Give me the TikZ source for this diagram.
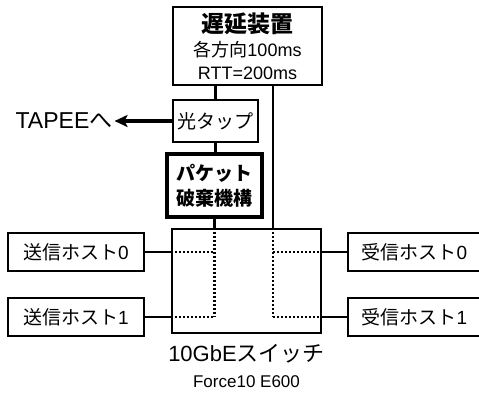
\documentclass[tikz,border=0pt]{standalone}
\usepackage{fontspec}
\setmainfont{Liberation Sans}
\newfontfamily\jp{Noto Sans CJK JP}
\usetikzlibrary{arrows.meta}
\tikzset{
  box/.style={draw, line width=2.5pt, inner sep=0pt, align=center, fill=white},
  thickbox/.style={box, line width=4.5pt},
  conn/.style={line width=2.5pt},
  inner/.style={line width=2.8pt, dash pattern=on 2.4pt off 1.6pt},
  fs/.style={font=\fontsize{#1}{#1}\selectfont},
}
\begin{document}
\begin{tikzpicture}[x=1pt, y=-1pt]
\useasboundingbox (0,0) rectangle (479,392);
% boxes
\node[box, minimum width=149pt, minimum height=78pt, font=\fontsize{18}{23}\selectfont] (delay) at (247.5,46)
  {{\jp\fontsize{23}{23}\selectfont\bfseries 遅延装置}\\[1pt]
   {\jp 各方向}100ms\\
   RTT=200ms};
\node[box, minimum width=85pt, minimum height=42pt, fs=19] (tap) at (215.5,121) {\jp 光タップ};
\node[thickbox, minimum width=95pt, minimum height=63pt, font=\fontsize{19}{25}\selectfont] (pkt) at (214.5,185.5)
  {{\jp\bfseries パケット}\\{\jp\bfseries 破棄機構}};
\node[box, minimum width=149pt, minimum height=104pt] (sw) at (246.5,281) {};
\node[box, minimum width=136pt, minimum height=38pt, fs=19] (s0) at (76,252) {{\jp 送信ホスト}0};
\node[box, minimum width=136pt, minimum height=38pt, fs=19] (s1) at (76,317) {{\jp 送信ホスト}1};
\node[box, minimum width=133pt, minimum height=38pt, fs=19] (r0) at (414.5,252) {{\jp 受信ホスト}0};
\node[box, minimum width=133pt, minimum height=38pt, fs=19] (r1) at (414.5,317) {{\jp 受信ホスト}1};
% labels
\node[fs=23, inner sep=2pt] (tapee) at (64,121) {TAPEE{\jp へ}};
\node[fs=22, inner sep=0pt] (swlabel) at (246.5,354) {10GbE{\jp スイッチ}};
\node[fs=17, inner sep=0pt] (swmodel) at (246.5,382) {Force10 E600};
\coordinate (rx) at (273,0);
% connectors
\draw[conn] (tap.north) -- (tap.north |- delay.south);
\draw[conn] (pkt.north) -- (pkt.north -| tap.south) -- (tap.south);
\draw[conn] (pkt.south) -- (pkt.south |- sw.north);
\draw[conn] (rx |- delay.south) -- (rx |- sw.north);
\draw[conn] (s0.east) -- (s0.east -| sw.west);
\draw[conn] (s1.east) -- (s1.east -| sw.west);
\draw[conn] (r0.west) -- (r0.west -| sw.east);
\draw[conn] (r1.west) -- (r1.west -| sw.east);
\draw[line width=3.5pt, -{Stealth[length=13pt, width=12pt, inset=3pt]}] (tap.west) -- (tapee.east);
% internal switch paths
\draw[inner] (pkt.south |- sw.north) -- (pkt.south |- s1.east);
\draw[inner] (s0.east -| sw.west) -- (s0.east -| pkt.south);
\draw[inner] (s1.east -| sw.west) -- (s1.east -| pkt.south);
\draw[inner] (rx |- sw.north) -- (rx |- r1.west);
\draw[inner] (rx |- r0.west) -- (r0.west -| sw.east);
\draw[inner] (rx |- r1.west) -- (r1.west -| sw.east);
\end{tikzpicture}
\end{document}
